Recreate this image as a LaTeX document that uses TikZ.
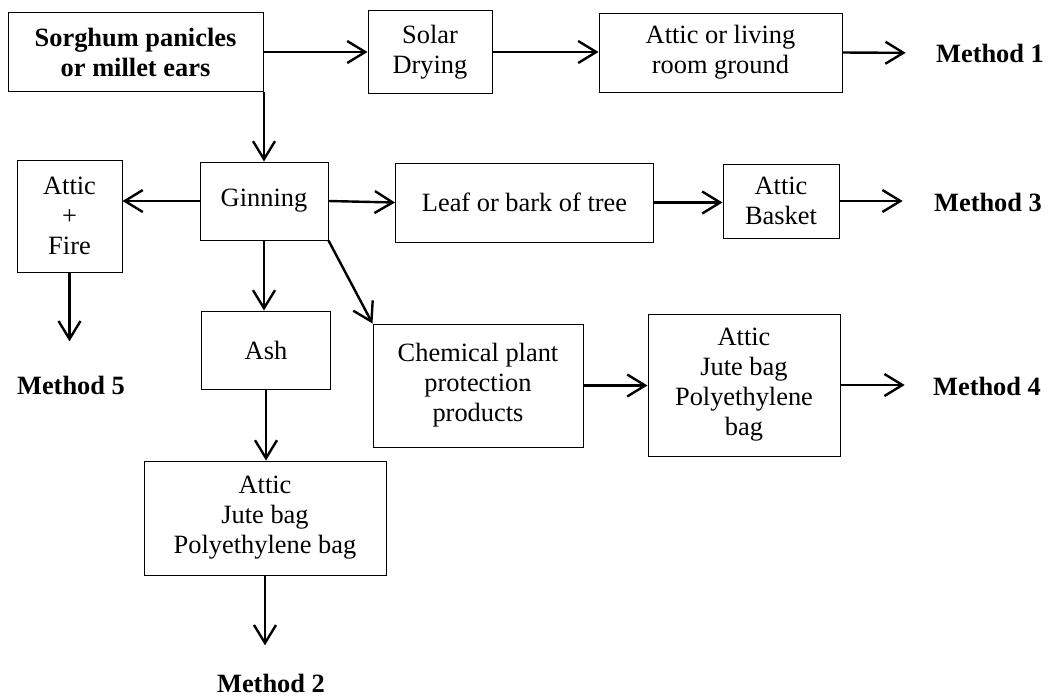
\documentclass[tikz,border=0pt]{standalone}
\usepackage{fontspec}
\setmainfont{Liberation Serif}
\usetikzlibrary{arrows.meta,positioning}
\newcommand{\flowfont}{\fontsize{13.2}{15}\selectfont}
\tikzset{
  stepbox/.style args={#1,#2}{
  draw=black,
  line width=0.5pt,
  inner sep=0pt,
  align=center,
  font=\flowfont,
  minimum width=#1*0.5pt,
  minimum height=#2*0.5pt,
  },
  method/.style={inner sep=0pt,font=\flowfont\bfseries},
  flow/.style={-{Straight Barb[length=9pt,width=11pt]},line width=1.2pt},
}

\begin{document}
\begin{tikzpicture}[x=0.5pt,y=-0.5pt]
    \useasboundingbox (0,0) rectangle (1057,698);
    % top row
    \node [stepbox={255,79},font=\flowfont\bfseries] (src) at (135.5,52) {Sorghum panicles\\or millet ears};
    \node [stepbox={124,83}] (solar) at (430,52) {Solar\\Drying};
    \node [stepbox={243,79}] (living) at (720.5,52.5) {Attic or living\\room ground};
    \node [method] (m1) at (990,53) {Method 1};
    % second row
    \node [stepbox={128,78}] (gin) at (264,201) {Ginning};
    \node [stepbox={105,112}] (fire) at (69.5,216) {Attic\\+\\Fire};
    \node [stepbox={258,79}] (leaf) at (524.5,202.5) {Leaf or bark of tree};
    \node [stepbox={116,74}] (basket) at (781,201) {Attic\\Basket};
    \node [method] (m3) at (988,202) {Method 3};
    % third row
    \node [method] (m5) at (71,385) {Method 5};
    \node [stepbox={129,78}] (ash) at (266,350) {Ash};
    \node [stepbox={210,123}] (chem) at (478,385.5) {Chemical plant\\protection\\products};
    \node [stepbox={192,142}] (jute) at (744,385) {Attic\\Jute bag\\Polyethylene\\bag};
    \node [method] (m4) at (987,386) {Method 4};
    % bottom
    \node [stepbox={242,114}] (bags) at (265,518) {Attic\\Jute bag\\Polyethylene bag};
    \node [method] (m2) at (271,683) {Method 2};

    \draw [flow] (src) -- (solar);
    \draw [flow] (solar.east) -- (living.west |- solar.east);
    \draw [flow,shorten >=15pt] (living.east) -- (m1.west);
    \draw [flow] (gin.north |- src.south) -- (gin.north);
    \draw [flow] (gin.west) -- (fire.east |- gin.west);
    \draw [flow] (gin.east) -- (leaf.west);
    \draw [flow] (leaf.east) -- (basket.west |- leaf.east);
    \draw [flow,shorten >=15.5pt] (basket.east) -- (m3.west |- basket.east);
    \draw [flow,shorten >=17pt] (fire.south) -- (fire.south |- m5.north);
    \draw [flow] (gin.south) -- (gin.south |- ash.north);
    \draw [flow] (gin.south east) -- (chem.north west);
    \draw [flow] (chem.east) -- (jute.west |- chem.east);
    \draw [flow,shorten >=14pt] (jute.east) -- (m4.west |- jute.east);
    \draw [flow] (ash.south) -- (ash.south |- bags.north);
    \draw [flow,shorten >=14pt] (bags.south) -- (bags.south |- m2.north);
\end{tikzpicture}
\end{document}
